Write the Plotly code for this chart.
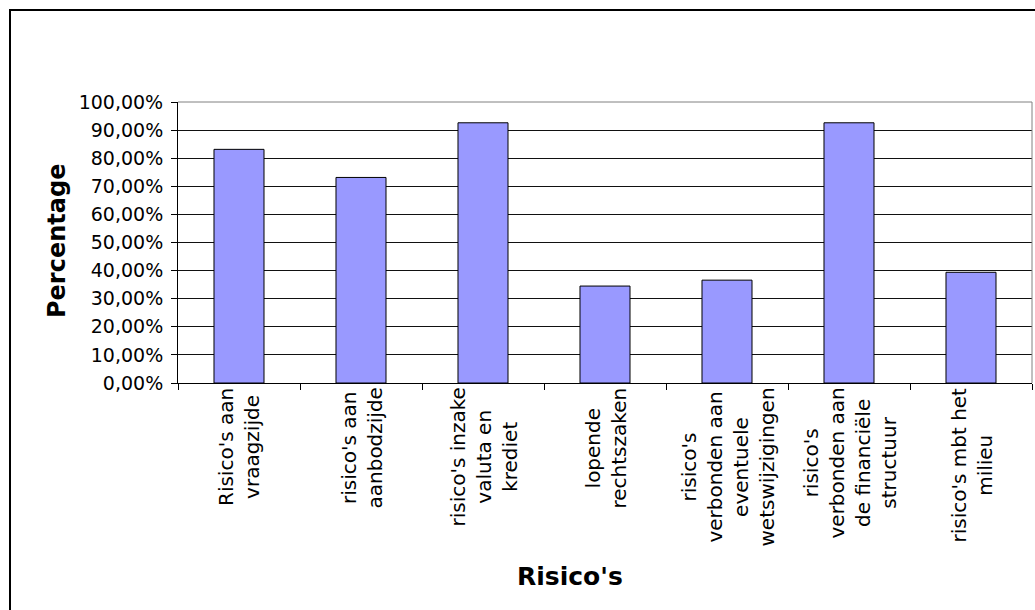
import plotly.graph_objects as go

categories = [
    "Risico's aan<br>vraagzijde",
    "risico's aan<br>aanbodzijde",
    "risico's inzake<br>valuta en<br>krediet",
    "lopende<br>rechtszaken",
    "risico's<br>verbonden aan<br>eventuele<br>wetswijzigingen",
    "risico's<br>verbonden aan<br>de financiële<br>structuur",
    "risico's mbt het<br>milieu",
]
values = [0.8315, 0.7315, 0.926, 0.345, 0.366, 0.926, 0.394]
y_ticks = [i / 10 for i in range(11)]
x_title = "Risico's"
y_title = "Percentage"

W, H = 1035, 610
L, R, T, B = 178, 3, 102, 227
pw, ph = W - L - R, H - T - B
FONT = "DejaVu Sans"

def px_x(x):
    return (x - L) / pw

def px_y(y):
    return (H - B - y) / ph

fig = go.Figure()
fig.add_trace(go.Bar(
    x=list(range(len(categories))), y=values,
    width=0.41,
    marker=dict(color="#9999FF", line=dict(color="#000000", width=1)),
    hoverinfo="skip",
))

annotations = []
for i, c in enumerate(categories):
    annotations.append(dict(
        x=i, xref="x", y=0, yref="paper", yanchor="top", xanchor="center",
        yshift=-3, text=c, textangle=-90, align="center", showarrow=False,
        font=dict(family=FONT, size=20, color="#000"),
    ))
annotations.append(dict(
    x=px_x(570), xref="paper", y=px_y(576), yref="paper",
    xanchor="center", yanchor="middle", text="<b>" + x_title + "</b>",
    showarrow=False, font=dict(family=FONT, size=25, color="#000"),
))
annotations.append(dict(
    x=px_x(57), xref="paper", y=px_y(241), yref="paper",
    xanchor="center", yanchor="middle", text="<b>" + y_title + "</b>",
    textangle=-90, showarrow=False, font=dict(family=FONT, size=24, color="#000"),
))

shapes = [
    # outer chart border
    dict(type="rect", xref="paper", yref="paper",
         x0=px_x(10), x1=px_x(W + 20), y0=px_y(H + 20), y1=px_y(10),
         line=dict(color="#000", width=2), fillcolor="rgba(0,0,0,0)", layer="above"),
    # plot area top & right borders (gray)
    dict(type="line", xref="paper", yref="paper", x0=0, x1=1, y0=1, y1=1,
         line=dict(color="#808080", width=1), layer="above"),
    dict(type="line", xref="paper", yref="paper", x0=1, x1=1, y0=0, y1=1,
         line=dict(color="#808080", width=1), layer="above"),
]

fig.update_layout(
    width=W, height=H,
    margin=dict(l=L, r=R, t=T, b=B, autoexpand=False),
    paper_bgcolor="white", plot_bgcolor="white",
    separators=",.",
    showlegend=False,
    font=dict(family=FONT, color="#000"),
    annotations=annotations,
    shapes=shapes,
    xaxis=dict(
        type="linear", range=[-0.5, len(categories) - 0.5],
        tickvals=[i - 0.5 for i in range(len(categories) + 1)],
        ticktext=[""] * (len(categories) + 1),
        ticks="outside", ticklen=6, tickcolor="#000", tickwidth=1,
        showgrid=False, zeroline=False,
        showline=True, linecolor="#000", linewidth=1,
        automargin=False, fixedrange=True,
    ),
    yaxis=dict(
        range=[0, 1], tickvals=y_ticks, tickformat=".2%",
        ticks="outside", ticklen=6, tickcolor="#000", tickwidth=1,
        ticklabelstandoff=4,
        showgrid=True, gridcolor="#111111", gridwidth=1,
        zeroline=False, showline=True, linecolor="#000", linewidth=1,
        tickfont=dict(family=FONT, size=19, color="#000"),
        automargin=False, fixedrange=True,
    ),
)

fig.write_html("out.html", config={"displayModeBar": False})
